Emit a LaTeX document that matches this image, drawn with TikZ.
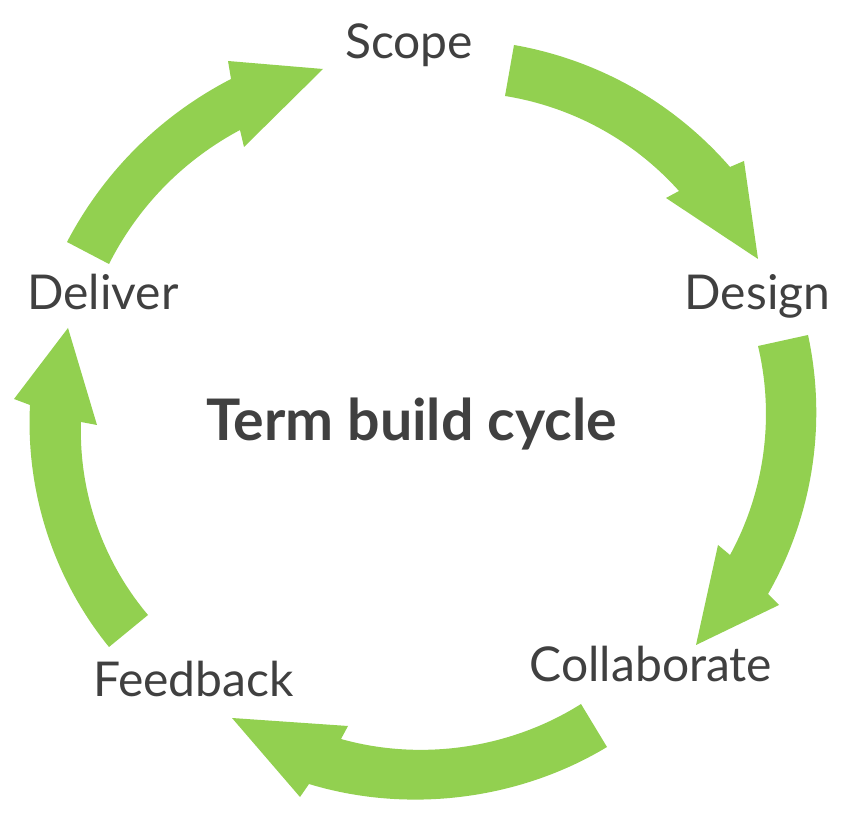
\documentclass[tikz,border=0pt]{standalone}
\usepackage{fontspec}
\setmainfont{Lato}
\definecolor{arrowgreen}{HTML}{92D050}
\definecolor{textgray}{HTML}{404040}
\begin{document}
\begin{tikzpicture}[x=1pt,y=1pt,
  lbl/.style={text=textgray,inner sep=0pt,anchor=base,font=\fontsize{48}{56}\selectfont},
  ttl/.style={text=textgray,inner sep=0pt,anchor=base,font=\fontsize{57.3}{66}\selectfont\bfseries},
  cyclearrow/.style={fill=arrowgreen,draw=none}]
\useasboundingbox (0,0) rectangle (850,813);

% labels
\node[lbl] (scope) at (409,754) {Scope};
\node[lbl] (design) at (757.5,503) {Design};
\node[lbl] (collab) at (651,131) {Collaborate};
\node[lbl] (feedback) at (193.5,116) {Feedback};
\node[lbl] (deliver) at (103,503) {Deliver};
\node[ttl] (title) at (411.5,372) {Term build cycle};

% arrow 1: Scope -> Design
\coordinate (a1to) at (514,768);
\coordinate (a1ti) at (505,717);
\coordinate (a1on) at (730,646);
\coordinate (a1ob) at (744,652);
\coordinate (a1p)  at (758,554);
\coordinate (a1ib) at (666,615);
\coordinate (a1in) at (679,622);
\fill[cyclearrow] (a1to) to[bend left=19.5,looseness=0.88] (a1on) -- (a1ob) -- (a1p) -- (a1ib) -- (a1in)
  to[bend right=19.5,looseness=0.88] (a1ti) -- cycle;

% arrow 2: Design -> Collaborate
\coordinate (a2to) at (808,478);
\coordinate (a2ti) at (758,467);
\coordinate (a2on) at (768,219);
\coordinate (a2ob) at (779,208);
\coordinate (a2p)  at (696,168);
\coordinate (a2ib) at (718,268);
\coordinate (a2in) at (730,258);
\fill[cyclearrow] (a2to) to[bend left=21,looseness=0.88] (a2on) -- (a2ob) -- (a2p) -- (a2ib) -- (a2in)
  to[bend right=21,looseness=0.88] (a2ti) -- cycle;

% arrow 3: Collaborate -> Feedback
\coordinate (a3to) at (607,66);
\coordinate (a3ti) at (581,109);
\coordinate (a3on) at (309,29);
\coordinate (a3ob) at (300,16);
\coordinate (a3p)  at (232,95);
\coordinate (a3ib) at (348,87);
\coordinate (a3in) at (341,74);
\fill[cyclearrow] (a3to) to[bend left=24,looseness=0.88] (a3on) -- (a3ob) -- (a3p) -- (a3ib) -- (a3in)
  to[bend right=24,looseness=0.88] (a3ti) -- cycle;

% arrow 4: Feedback -> Deliver
\coordinate (a4to) at (109,166);
\coordinate (a4ti) at (148,198);
\coordinate (a4on) at (30,408);
\coordinate (a4ob) at (14,414);
\coordinate (a4p)  at (68,485);
\coordinate (a4ib) at (97,388);
\coordinate (a4in) at (81,391);
\fill[cyclearrow] (a4to) to[bend left=21,looseness=0.88] (a4on) -- (a4ob) -- (a4p) -- (a4ib) -- (a4in)
  to[bend right=21,looseness=0.88] (a4ti) -- cycle;

% arrow 5: Deliver -> Scope
\coordinate (a5to) at (67,571);
\coordinate (a5ti) at (109,549);
\coordinate (a5on) at (231,734);
\coordinate (a5ob) at (228,752);
\coordinate (a5p)  at (323,744);
\coordinate (a5ib) at (244,666);
\coordinate (a5in) at (240,683);
\fill[cyclearrow] (a5to) to[bend left=17.5,looseness=0.88] (a5on) -- (a5ob) -- (a5p) -- (a5ib) -- (a5in)
  to[bend right=17.5,looseness=0.88] (a5ti) -- cycle;
\end{tikzpicture}
\end{document}
